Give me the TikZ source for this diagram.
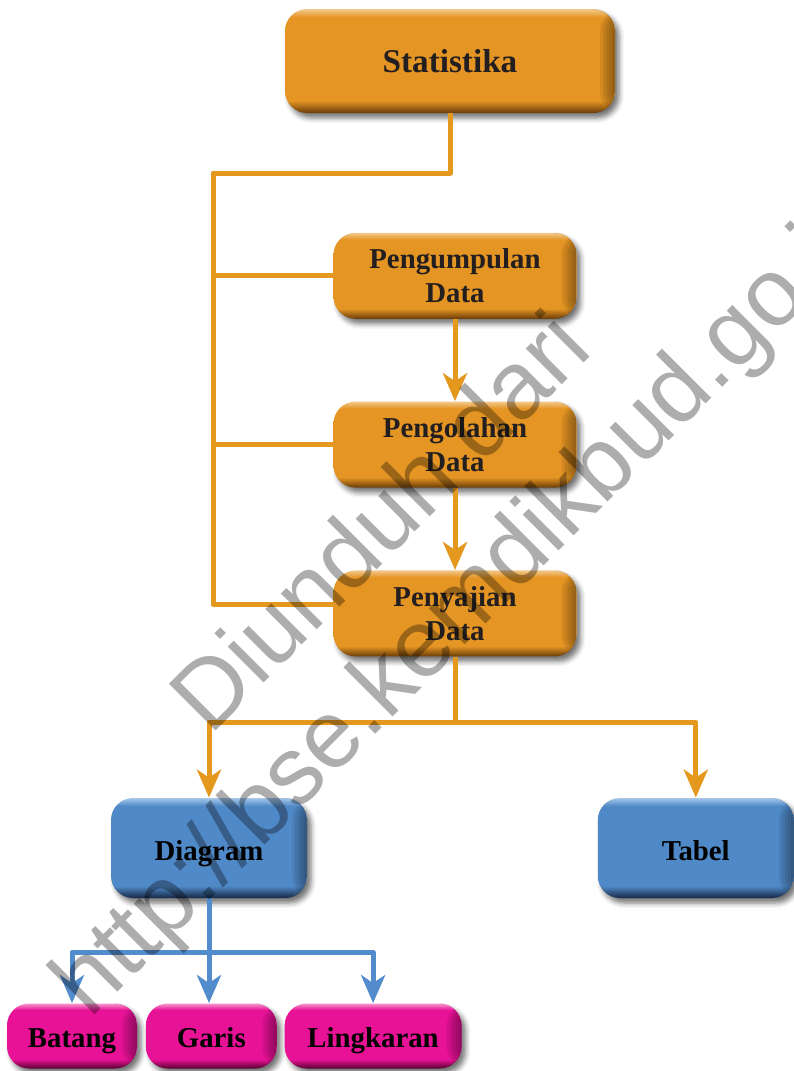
\documentclass[tikz,border=0pt]{standalone}
\usepackage{fontspec}
\setmainfont{Liberation Serif}
\newfontfamily\markfont{Liberation Sans}
\usepackage{xcolor}
\usepackage{tikz}
\usetikzlibrary{arrows.meta, positioning, shadows.blur}
\definecolor{statorange}{RGB}{229,149,35}
\definecolor{statdark}{RGB}{105,60,8}
\definecolor{statlight}{RGB}{242,200,140}
\definecolor{linkorange}{RGB}{228,152,30}
\definecolor{chartblue}{RGB}{80,137,199}
\definecolor{chartdark}{RGB}{22,40,70}
\definecolor{chartlight}{RGB}{165,198,232}
\definecolor{linkblue}{RGB}{82,140,204}
\definecolor{kindpink}{RGB}{232,18,150}
\definecolor{kinddark}{RGB}{85,0,45}
\definecolor{kindlight}{RGB}{246,150,205}
\definecolor{labeltext}{RGB}{35,31,32}
\pgfdeclareverticalshading{statbevel}{100bp}{color(0bp)=(statdark); color(25bp)=(statdark);
  color(31bp)=(statorange); color(71bp)=(statorange); color(75bp)=(statlight); color(100bp)=(statlight)}
\pgfdeclareverticalshading{chartbevel}{100bp}{color(0bp)=(chartdark); color(25bp)=(chartdark);
  color(31bp)=(chartblue); color(71bp)=(chartblue); color(75bp)=(chartlight); color(100bp)=(chartlight)}
\pgfdeclareverticalshading{kindbevel}{100bp}{color(0bp)=(kinddark); color(25bp)=(kinddark);
  color(32bp)=(kindpink); color(70bp)=(kindpink); color(75bp)=(kindlight); color(100bp)=(kindlight)}
\tikzset{
  box/.style={rectangle, rounded corners=11pt, align=center, inner sep=2pt,
    text=labeltext, font=\fontsize{14.4}{17}\selectfont\bfseries,
    blur shadow={shadow xshift=2pt, shadow yshift=-2.5pt, shadow blur radius=2.5pt,
      shadow opacity=55},
    path picture={\foreach \w in {1.5,3,4.5,6,7.5}
      \fill[black, opacity=0.08] ([xshift=-\w pt]path picture bounding box.north east)
        rectangle (path picture bounding box.south east);}},
  statbox/.style={box, shading=statbevel, minimum width=121.5pt, minimum height=43pt},
  chartbox/.style={box, shading=chartbevel, text=black, minimum width=98pt,
    minimum height=50pt, text height=13pt, text depth=1pt},
  kindbox/.style={box, shading=kindbevel, text=black, minimum height=32.5pt,
    text height=12pt, text depth=1pt},
  link/.style={line width=2.5pt, color=linkorange, line join=round},
  arrow/.style={link, -{Stealth[length=14pt, width=12pt, inset=4pt]}},
  bluelink/.style={line width=2.5pt, color=linkblue, line join=round},
  bluearrow/.style={bluelink, -{Stealth[length=14pt, width=12pt, inset=4pt]}},
  watermark/.style={text=black, opacity=0.32, font=\markfont\fontsize{48}{48}\selectfont,
    anchor=base west, rotate=45, inner sep=0pt},
}

\begin{document}
\begin{tikzpicture}[x=0.5pt, y=-0.5pt]
  \useasboundingbox (0,0) rectangle (793,1071);

  % Main chain
  \node[statbox, minimum width=165pt, minimum height=52pt,
    font=\fontsize{16.6}{20}\selectfont\bfseries] (stat) at (450,61) {Statistika};
  \node[statbox, below=59.5pt of stat, xshift=2.5pt] (collect) {Pengumpulan\\Data};
  \node[statbox, below=41pt of collect] (process) {Pengolahan\\Data};
  \node[statbox, below=41pt of process] (present) {Penyajian\\Data};

  % Forms of presentation
  \node[chartbox] (diagram) at (209,848) {Diagram};
  \node[chartbox, right=145pt of diagram] (table) {Tabel};
  \node[kindbox, minimum width=65pt] (bar) at (72,1036) {Batang};
  \node[kindbox, minimum width=65.5pt, right=4pt of bar] (line) {Garis};
  \node[kindbox, minimum width=88.5pt, right=3.5pt of line] (pie) {Lingkaran};

  % Connectors
  \coordinate (spine) at (213,173);
  \coordinate (split) at (present.south |- 0,722);
  \coordinate (bluesplit) at (diagram.south |- 0,952);
  \draw[link] (stat.south) |- (spine) |- ([yshift=4.5pt]present.west);
  \draw[link] (spine |- collect.west) -- (collect.west);
  \draw[link] (spine |- process.west) -- (process.west);
  \draw[arrow] (collect.south) -- (process.north);
  \draw[arrow] (process.south) -- (present.north);
  \draw[link] (present.south) -- (split);
  \draw[arrow] (split) -| (diagram.north);
  \draw[arrow] (split) -| (table.north);
  \draw[bluearrow] (diagram.south) -- (diagram.south |- line.north);
  \draw[bluearrow] (bluesplit) -| (bar.north);
  \draw[bluearrow] (bluesplit) -| (pie.north);

  % Watermark
  \begin{scope}
    \clip (0,0) rectangle (793,1071);
    \node[watermark] (mark) at (210,737) {Diunduh dari};
    \node[watermark] (url) at (90,1020) {http://bse.kemdikbud.go.id};
  \end{scope}
\end{tikzpicture}
\end{document}
